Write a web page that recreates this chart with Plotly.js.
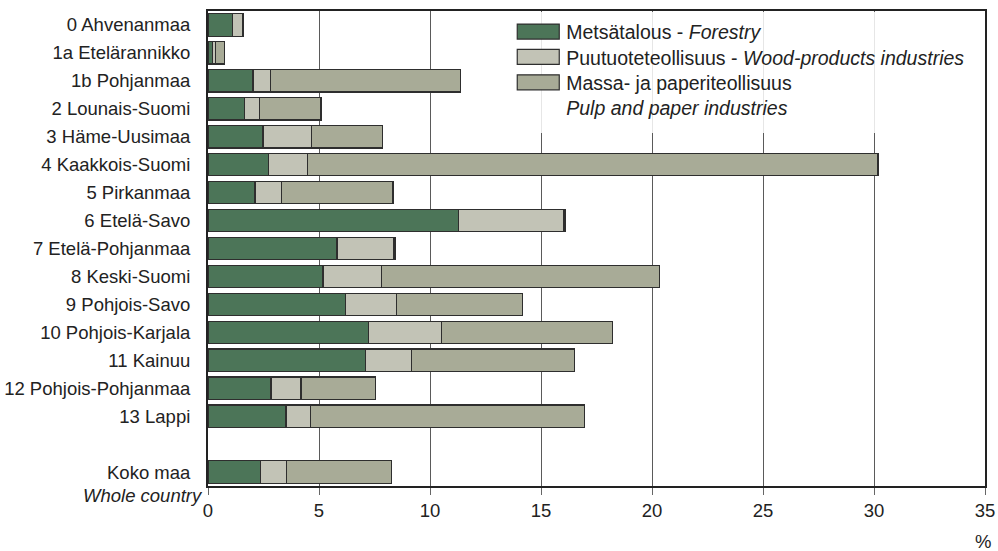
<!DOCTYPE html>
<html>
<head>
<meta charset="utf-8">
<script src="https://cdn.plot.ly/plotly-3.0.1.min.js"></script>
<style>html,body{margin:0;padding:0;background:#fff;}#chart{width:998px;height:551px;}</style>
</head>
<body>
<div id="chart"></div>
<script>
const regions = ["0 Ahvenanmaa","1a Etelärannikko","1b Pohjanmaa","2 Lounais-Suomi","3 Häme-Uusimaa","4 Kaakkois-Suomi","5 Pirkanmaa","6 Etelä-Savo","7 Etelä-Pohjanmaa","8 Keski-Suomi","9 Pohjois-Savo","10 Pohjois-Karjala","11 Kainuu","12 Pohjois-Pohjanmaa","13 Lappi","Koko maa"];
const positions = [0,1,2,3,4,5,6,7,8,9,10,11,12,13,14,16];
const forestry = [1.09,0.19,2.03,1.64,2.48,2.73,2.12,11.29,5.81,5.18,6.20,7.24,7.10,2.84,3.51,2.36];
const woodProducts = [0.47,0.13,0.79,0.69,2.17,1.76,1.18,4.75,2.57,2.64,2.28,3.28,2.07,1.35,1.10,1.17];
const pulpPaper = [0.05,0.42,8.55,2.76,3.22,25.69,5.03,0.05,0.05,12.51,5.68,7.69,7.35,3.36,12.34,4.74];
const xTicks = [0,5,10,15,20,25,30,35];
const seriesNames = ["Metsätalous - <i>Forestry</i>","Puutuoteteollisuus - <i>Wood-products industries</i>","Massa- ja paperiteollisuus<br><i>Pulp and paper industries</i>"];
const colors = ["#4c7558","#c2c3b6","#a8ab97"];
const font = "Liberation Sans, Arial, sans-serif";

const vals = [forestry, woodProducts, pulpPaper];
const traces = vals.map((v,i)=>({
  type:"bar", orientation:"h", x:v, y:positions, name:seriesNames[i],
  width:0.8,
  marker:{color:colors[i], line:{color:"#2e2e2e", width:1.2}},
  hoverinfo:"x+name"
}));

const layout = {
  width:998, height:551,
  margin:{l:208, r:13, t:11, b:65},
  barmode:"stack",
  paper_bgcolor:"#fff", plot_bgcolor:"#fff",
  font:{family:font, size:18.5, color:"#222"},
  showlegend:true,
  legend:{x:0.389, y:0.997, xanchor:"left", yanchor:"top", valign:"top", bgcolor:"rgba(255,255,255,0.85)",
    font:{family:font, size:19.5, color:"#222"}, tracegroupgap:0, itemwidth:46, traceorder:"normal"},
  xaxis:{range:[0,35], tickvals:xTicks, ticktext:xTicks.map(String), showgrid:true, gridcolor:"#5a5a5a", gridwidth:1,
    zeroline:false, showline:true, linecolor:"#222", linewidth:2, mirror:true,
    ticks:"outside", ticklen:7, tickcolor:"#666", ticklabelstandoff:0, tickfont:{size:18.5, color:"#222"}},
  yaxis:{range:[16.5,-0.5], tickvals:positions, ticktext:regions, showgrid:false, zeroline:false,
    showline:true, linecolor:"#222", linewidth:2, mirror:true, ticks:"", ticklabelstandoff:12,
    tickfont:{size:18.5, color:"#222"}},
  annotations:[
    {text:"<i>Whole country</i>", xref:"paper", yref:"paper", x:0, y:0, xanchor:"right", yanchor:"middle", xshift:-3, yshift:-9, showarrow:false, font:{size:18.5, color:"#222"}},
    {text:"%", xref:"paper", yref:"paper", x:1, y:0, xanchor:"center", yanchor:"middle", xshift:-2, yshift:-55, showarrow:false, font:{size:18.5, color:"#222"}}
  ]
};
Plotly.newPlot("chart", traces, layout, {displayModeBar:false, staticPlot:true}).then(gd=>{
  gd.querySelectorAll('.legend path.legendbar, .legend .legendpoints path').forEach(p=>{
    p.setAttribute('d','M21,7.5H-21V-7.5H21Z');
  });
  gd.querySelectorAll('.legend g.traces').forEach((g,i)=>{
    const t = g.getAttribute('transform') || '';
    const m = t.match(/translate\(\s*([-\d.e]+)[ ,]+([-\d.e]+)\s*\)/);
    if (m) g.setAttribute('transform', 'translate(' + m[1] + ',' + (parseFloat(m[2]) - 3*i) + ')');
  });
});
</script>
</body>
</html>
